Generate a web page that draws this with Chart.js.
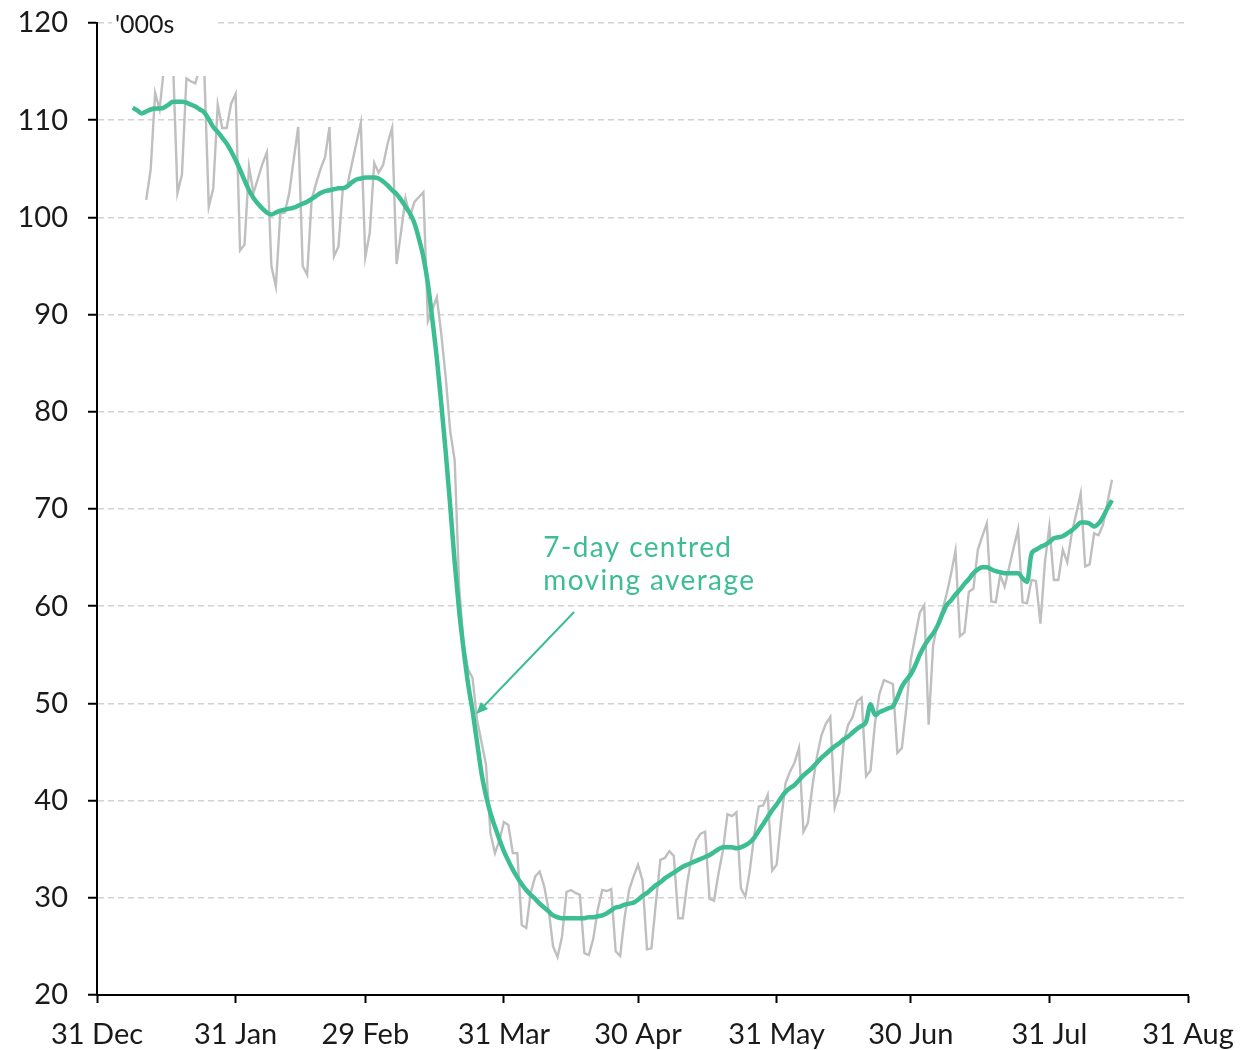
<!DOCTYPE html>
<html>
<head>
<meta charset="utf-8">
<script src="https://cdn.jsdelivr.net/npm/chart.js@4"></script>
<style>
  body { margin: 0; background: #fff; }
</style>
</head>
<body>
<canvas id="chart" width="1241" height="1050"></canvas>
<script>
// days counted from 31 Dec
const tickDays = [0, 31, 60, 91, 121, 152, 182, 213, 244];
const tickLabels = ["31 Dec", "31 Jan", "29 Feb", "31 Mar", "30 Apr", "31 May", "30 Jun", "31 Jul", "31 Aug"];

// daily figures, first one on day 11
const dailyStart = 11;
const daily = [
  101.8, 104.9, 112.8, 111.1, 115.5, 116.5, 116.0, 102.5, 104.4, 114.3,
  114.0, 113.8, 115.5, 115.0, 101.1, 103.0, 111.6, 109.2, 109.2, 111.7,
  112.7, 96.6, 97.2, 105.2, 102.5, 104.0, 105.5, 106.7, 95.0, 92.9,
  100.4, 100.5, 102.5, 106.0, 109.3, 95.0, 94.1, 101.8, 103.5, 105.0,
  106.2, 109.3, 96.0, 97.0, 103.1, 103.3, 105.5, 107.6, 109.7, 95.9,
  98.4, 105.6, 104.6, 105.4, 107.6, 109.2, 95.2, 98.5, 102.0, 100.1,
  101.6, 102.1, 102.6, 89.3, 90.5, 91.8, 88.0, 83.5, 78.0, 75.0,
  62.0, 56.0, 53.5, 52.6, 48.3, 46.0, 43.7, 36.6, 34.6, 35.9,
  37.8, 37.5, 34.6, 34.6, 27.2, 26.9, 30.5, 32.2, 32.7, 31.2,
  28.8, 25.0, 23.9, 26.0, 30.6, 30.8, 30.5, 30.3, 24.3, 24.1,
  25.8, 28.8, 30.8, 30.7, 30.9, 24.5, 24.0, 28.0, 30.8, 32.2,
  33.4, 31.8, 24.7, 24.8, 29.5, 33.9, 34.1, 34.8, 34.3, 27.9,
  27.9, 31.5, 34.3, 35.9, 36.6, 36.8, 29.9, 29.7, 32.5, 34.9,
  38.6, 38.4, 38.8, 31.0, 30.1, 32.8, 36.5, 39.4, 39.5, 40.6,
  32.8, 33.4, 38.0, 41.8, 43.0, 43.9, 45.4, 36.8, 37.7, 41.5,
  44.5, 46.7, 47.9, 48.6, 39.3, 40.8, 46.0, 47.8, 48.6, 50.2,
  50.6, 42.5, 43.1, 48.0, 51.0, 52.4, 52.2, 52.0, 44.9, 45.4,
  49.5, 54.5, 56.9, 59.3, 60.1, 47.8, 56.0, 58.2, 59.5, 61.2,
  63.3, 65.7, 56.9, 57.3, 61.5, 61.8, 65.8, 67.2, 68.5, 60.5,
  60.4, 63.2, 62.0, 64.0, 66.0, 67.9, 60.4, 60.3, 62.7, 62.6,
  58.2, 64.5, 68.2, 62.7, 62.7, 65.8, 64.5, 67.5, 69.5, 71.6,
  64.1, 64.3, 67.5, 67.3, 68.4, 70.7, 73.0
];

// 7-day centred moving average, first one on day 8
const avgStart = 8;
const avg = [
  111.3, 111.0, 110.7, 110.9, 111.1, 111.2, 111.2, 111.3, 111.6, 111.9,
  111.9, 111.9, 111.8, 111.6, 111.4, 111.1, 110.8, 110.1, 109.3, 108.8,
  108.2, 107.6, 106.8, 105.9, 104.9, 103.8, 102.8, 102.0, 101.4, 100.9,
  100.5, 100.3, 100.5, 100.7, 100.8, 100.9, 101.0, 101.2, 101.4, 101.6,
  101.9, 102.2, 102.5, 102.7, 102.8, 102.9, 103.0, 103.0, 103.2, 103.6,
  103.9, 104.0, 104.1, 104.1, 104.1, 104.0, 103.7, 103.3, 102.8, 102.4,
  101.8, 101.1, 100.4, 99.4, 97.8, 95.9, 93.2, 89.5, 85.5, 80.8,
  75.8, 70.3, 64.5, 59.5, 55.5, 52.0, 49.2, 46.0, 42.8, 40.5,
  38.7, 37.3, 36.0, 34.8, 33.8, 32.9, 32.1, 31.4, 30.8, 30.3,
  29.9, 29.4, 29.0, 28.6, 28.2, 28.0, 27.9, 27.9, 27.9, 27.9,
  27.9, 27.9, 28.0, 28.0, 28.1, 28.2, 28.4, 28.7, 29.0, 29.1,
  29.3, 29.4, 29.5, 29.8, 30.2, 30.5, 30.9, 31.3, 31.6, 32.0,
  32.3, 32.6, 32.9, 33.2, 33.4, 33.6, 33.8, 34.0, 34.2, 34.4,
  34.7, 35.0, 35.2, 35.2, 35.2, 35.1, 35.2, 35.4, 35.7, 36.2,
  36.9, 37.6, 38.3, 39.0, 39.6, 40.3, 40.9, 41.3, 41.6, 42.1,
  42.6, 43.0, 43.4, 43.9, 44.4, 44.8, 45.2, 45.6, 45.9, 46.3,
  46.6, 47.0, 47.4, 47.7, 48.1, 49.9, 48.8, 49.1, 49.3, 49.5,
  49.7, 50.6, 51.7, 52.4, 53.0, 53.9, 55.0, 55.9, 56.6, 57.2,
  58.0, 59.1, 60.1, 60.6, 61.2, 61.7, 62.3, 62.8, 63.4, 63.8,
  64.0, 64.0, 63.8, 63.6, 63.5, 63.4, 63.4, 63.4, 63.4, 62.9,
  62.5, 65.4, 65.8, 66.1, 66.3, 66.6, 67.0, 67.1, 67.2, 67.5,
  67.8, 68.2, 68.6, 68.6, 68.5, 68.2, 68.5, 69.2, 70.1, 70.9
];

const GREEN = "#3dbd93";
const GREY = "#bfbfbf";
const FONT = "Lato, 'DejaVu Sans', sans-serif";

const toPoints = (start, vals) => vals.map((v, i) => ({ x: start + i, y: v }));

// white label boxes, the "'000s" unit and the arrow note
const notes = {
  id: "notes",
  afterDatasetsDraw(chart) {
    const { ctx, scales: { x, y } } = chart;
    ctx.save();
    ctx.fillStyle = "#fff";
    ctx.fillRect(112, 0, 104, 76);
    ctx.fillStyle = "#1a1a1a";
    ctx.font = "25px " + FONT;
    ctx.textBaseline = "middle";
    ctx.fillText("'000s", 115, 25);

    const tx = x.getPixelForValue(99.8);
    const ty = y.getPixelForValue(66);
    ctx.fillStyle = "#fff";
    ctx.fillRect(tx - 2, ty - 20, 302, 72);
    ctx.fillStyle = GREEN;
    ctx.font = "28px " + FONT;
    ctx.letterSpacing = "1.4px";
    ctx.fillText("7-day centred", tx, ty);
    ctx.fillText("moving average", tx, ty + 33);
    ctx.letterSpacing = "0px";

    const x0 = x.getPixelForValue(106.7), y0 = y.getPixelForValue(59.4);
    const x1 = x.getPixelForValue(84.8), y1 = y.getPixelForValue(48.9);
    const ang = Math.atan2(y1 - y0, x1 - x0);
    ctx.strokeStyle = GREEN;
    ctx.lineWidth = 2;
    ctx.beginPath();
    ctx.moveTo(x0, y0);
    ctx.lineTo(x1 - 6 * Math.cos(ang), y1 - 6 * Math.sin(ang));
    ctx.stroke();
    ctx.beginPath();
    ctx.moveTo(x1, y1);
    ctx.lineTo(x1 - 13 * Math.cos(ang - 0.4), y1 - 13 * Math.sin(ang - 0.4));
    ctx.lineTo(x1 - 13 * Math.cos(ang + 0.4), y1 - 13 * Math.sin(ang + 0.4));
    ctx.closePath();
    ctx.fillStyle = GREEN;
    ctx.fill();
    ctx.restore();
  }
};

new Chart(document.getElementById("chart"), {
  type: "line",
  data: {
    datasets: [
      {
        label: "7-day centred moving average",
        data: toPoints(avgStart, avg),
        borderColor: GREEN,
        borderWidth: 4.5,
        pointRadius: 0,
        cubicInterpolationMode: "monotone",
        order: 0,
      },
      {
        label: "Daily",
        data: toPoints(dailyStart, daily),
        borderColor: GREY,
        borderWidth: 2.4,
        pointRadius: 0,
        tension: 0,
        order: 1,
      },
    ],
  },
  options: {
    responsive: false,
    animation: false,
    layout: { padding: { top: 23, right: 53, left: 0, bottom: 0 } },
    plugins: { legend: { display: false }, tooltip: { enabled: false } },
    scales: {
      x: {
        type: "linear",
        min: 0,
        max: 244,
        afterFit: (s) => {
          s.height = 55;
          s.paddingLeft = 0;
          s.paddingRight = 0;
        },
        afterBuildTicks: (s) => { s.ticks = tickDays.map((v) => ({ value: v })); },
        ticks: {
          autoSkip: false,
          maxRotation: 0,
          padding: 14,
          color: "#1a1a1a",
          font: { family: FONT, size: 29 },
          callback: (v) => tickLabels[tickDays.indexOf(v)],
        },
        grid: { drawOnChartArea: false, drawTicks: true, tickLength: 8, tickColor: "#000", tickWidth: 2 },
        border: { display: true, color: "#000", width: 2 },
      },
      y: {
        min: 20,
        max: 120,
        afterFit: (s) => {
          s.width = 97;
          s.paddingTop = 0;
          s.paddingBottom = 0;
        },
        ticks: {
          stepSize: 10,
          padding: 20,
          color: "#1a1a1a",
          font: { family: FONT, size: 29 },
        },
        grid: {
          color: (c) => (c.tick && c.tick.value === 20 ? "rgba(0,0,0,0)" : "#d2d2d2"),
          lineWidth: 1.5,
          drawTicks: true,
          tickLength: 9,
          tickColor: "#000",
          tickWidth: 2,
        },
        border: { display: true, color: "#000", width: 2, dash: [6, 4] },
      },
    },
  },
  plugins: [notes],
});
</script>
</body>
</html>
